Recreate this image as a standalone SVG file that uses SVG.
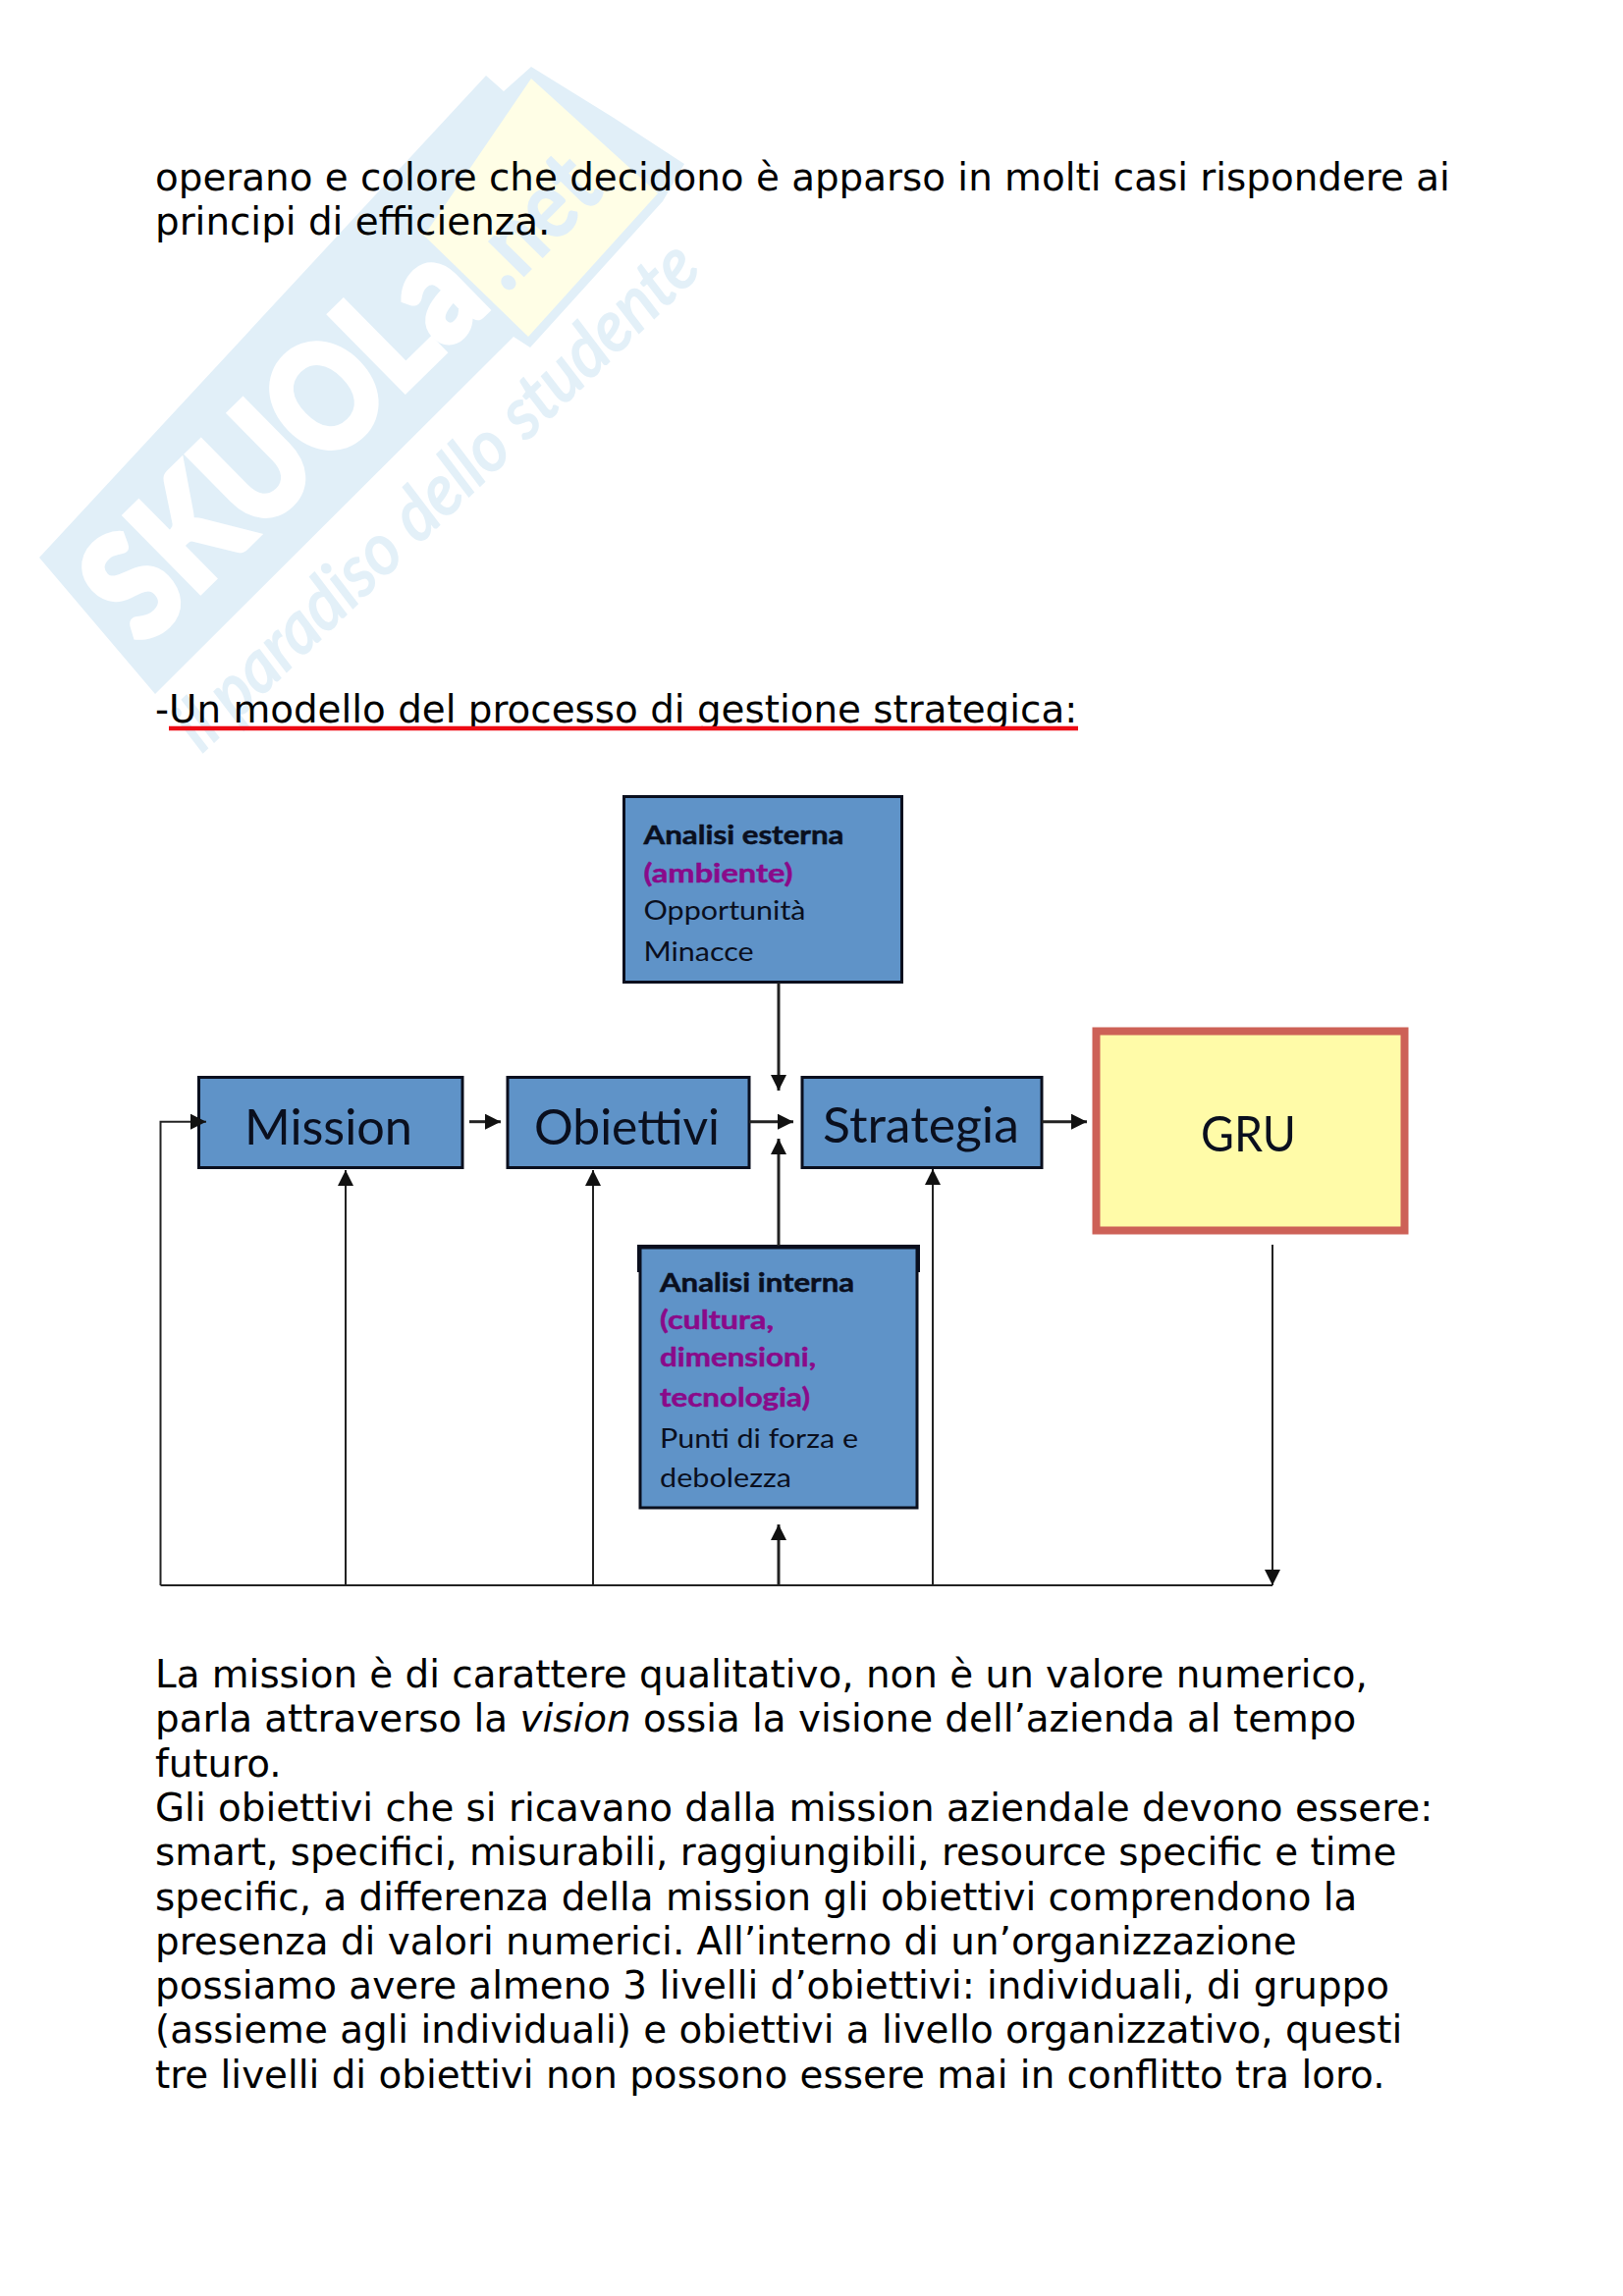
<svg xmlns="http://www.w3.org/2000/svg" width="1653" height="2339" viewBox="0 0 1653 2339">
<style>
.t{font-family:"DejaVu Sans",sans-serif;font-size:38.85px;fill:#000}
.b{font-family:Lato,"Liberation Sans",sans-serif;font-size:27px;fill:#0a0f1e}
.bb{font-weight:700;stroke:#0a0f1e;stroke-width:.5}
.p{font-weight:700;fill:#8a0a8a;stroke:#8a0a8a;stroke-width:.5}
.big{font-family:Lato,"Liberation Sans",sans-serif;font-size:50px;fill:#0a0f1e}
.box{fill:#5f93c8;stroke:#0a0f1e;stroke-width:3}
.c{fill:none;stroke:#222;stroke-width:2}
.h{stroke-width:3}
.a{marker-end:url(#ah)}
</style>
<defs>
<marker id="ah" markerUnits="userSpaceOnUse" markerWidth="17" markerHeight="17" refX="16" refY="8" orient="auto"><path d="M0 0L16 8L0 16Z" fill="#111"/></marker>
</defs>
<rect width="1653" height="2339" fill="#fff"/>
<g id="watermark">
<polygon points="40,568 495,77 513,93 541,68 625,120 697,167 675,205 540,354 523,343 158,707" fill="#e1eff8"/>
<polygon points="541,80 670,197 538,343 432,240" fill="#fffee6"/>
<text transform="translate(146,660) rotate(-44.5)" font-family="Lato,sans-serif" font-weight="900" font-size="150" fill="#fff" stroke="#fff" stroke-width="6" textLength="498" lengthAdjust="spacingAndGlyphs">SKUOLa</text>
<text transform="translate(516,300) rotate(-45.4)" font-family="Lato,sans-serif" font-weight="900" font-size="100" fill="#e1eff8" textLength="145" lengthAdjust="spacingAndGlyphs">.net</text>
<text transform="translate(205,768) rotate(-43.9)" font-family="Lato,sans-serif" font-style="italic" font-size="72" fill="#e3f0f8" stroke="#e3f0f8" stroke-width="2" textLength="709" lengthAdjust="spacingAndGlyphs">il paradiso dello studente</text>
</g>
<g id="text-top">
<text class="t" x="158" y="193.5">operano e colore che decidono è apparso in molti casi rispondere ai</text>
<text class="t" x="158" y="239">principi di efficienza.</text>
<text class="t" x="158" y="736">-Un modello del processo di gestione strategica:</text>
<line x1="172" y1="742" x2="1098" y2="742" stroke="#ee0a14" stroke-width="4.5"/>
</g>
<g id="analisi-esterna">
<rect class="box" x="635.5" y="811.5" width="283" height="189"/>
<text class="b bb" x="655.5" y="860" textLength="204" lengthAdjust="spacingAndGlyphs">Analisi esterna</text>
<text class="b p" x="655.5" y="899" textLength="152" lengthAdjust="spacingAndGlyphs">(ambiente)</text>
<text class="b" x="655.5" y="937" textLength="165" lengthAdjust="spacingAndGlyphs">Opportunità</text>
<text class="b" x="655.5" y="979" textLength="112" lengthAdjust="spacingAndGlyphs">Minacce</text>
</g>
<g id="mission">
<rect class="box" x="202.5" y="1097.5" width="268.5" height="92"/>
<text class="big" x="249" y="1166" textLength="171" lengthAdjust="spacingAndGlyphs">Mission</text>
</g>
<g id="obiettivi">
<rect class="box" x="517" y="1097.5" width="246" height="92"/>
<text class="big" x="544" y="1166" textLength="189" lengthAdjust="spacingAndGlyphs">Obiettivi</text>
</g>
<g id="strategia">
<rect class="box" x="817" y="1097.5" width="244" height="92"/>
<text class="big" x="838" y="1164" textLength="200" lengthAdjust="spacingAndGlyphs">Strategia</text>
</g>
<g id="gru">
<rect x="1116.5" y="1050.5" width="314" height="203" fill="#fffba8" stroke="#cd6157" stroke-width="8"/>
<text class="big" x="1223" y="1173" textLength="97" lengthAdjust="spacingAndGlyphs">GRU</text>
</g>
<g id="analisi-interna">
<rect x="649" y="1268" width="288" height="28" fill="#0a0f1e"/>
<rect class="box" x="652" y="1271" width="282" height="265"/>
<text class="b bb" x="672" y="1316" textLength="198" lengthAdjust="spacingAndGlyphs">Analisi interna</text>
<text class="b p" x="672" y="1354" textLength="116" lengthAdjust="spacingAndGlyphs">(cultura,</text>
<text class="b p" x="672" y="1392" textLength="159" lengthAdjust="spacingAndGlyphs">dimensioni,</text>
<text class="b p" x="672" y="1433" textLength="153" lengthAdjust="spacingAndGlyphs">tecnologia)</text>
<text class="b" x="672" y="1475" textLength="202" lengthAdjust="spacingAndGlyphs">Punti di forza e</text>
<text class="b" x="672" y="1515" textLength="134" lengthAdjust="spacingAndGlyphs">debolezza</text>
</g>
<g id="connectors">
<path class="c a" d="M1296 1268V1615"/>
<path class="c" d="M163.5 1615H1296"/>
<path class="c a" d="M163.5 1615V1142.7H210"/>
<path class="c a" d="M352 1615V1192"/>
<path class="c a" d="M604 1615V1192"/>
<path class="c h a" d="M793 1615V1553"/>
<path class="c a" d="M950 1615V1191"/>
<path class="c h a" d="M793 1001V1111"/>
<path class="c h a" d="M793 1269V1160"/>
<path class="c h a" d="M478 1142.7H510"/>
<path class="c h a" d="M763 1142.7H808"/>
<path class="c h a" d="M1061 1142.7H1107"/>
</g>
<g id="text-bottom">
<text class="t" x="158" y="1719">La mission è di carattere qualitativo, non è un valore numerico,</text>
<text class="t" x="158" y="1764.3">parla attraverso la <tspan font-style="italic">vision</tspan> ossia la visione dell’azienda al tempo</text>
<text class="t" x="158" y="1809.6">futuro.</text>
<text class="t" x="158" y="1854.9">Gli obiettivi che si ricavano dalla mission aziendale devono essere:</text>
<text class="t" x="158" y="1900.2">smart, specifici, misurabili, raggiungibili, resource specific e time</text>
<text class="t" x="158" y="1945.5">specific, a differenza della mission gli obiettivi comprendono la</text>
<text class="t" x="158" y="1990.8">presenza di valori numerici. All’interno di un’organizzazione</text>
<text class="t" x="158" y="2036.1">possiamo avere almeno 3 livelli d’obiettivi: individuali, di gruppo</text>
<text class="t" x="158" y="2081.4">(assieme agli individuali) e obiettivi a livello organizzativo, questi</text>
<text class="t" x="158" y="2126.7">tre livelli di obiettivi non possono essere mai in conflitto tra loro.</text>
</g>
</svg>
